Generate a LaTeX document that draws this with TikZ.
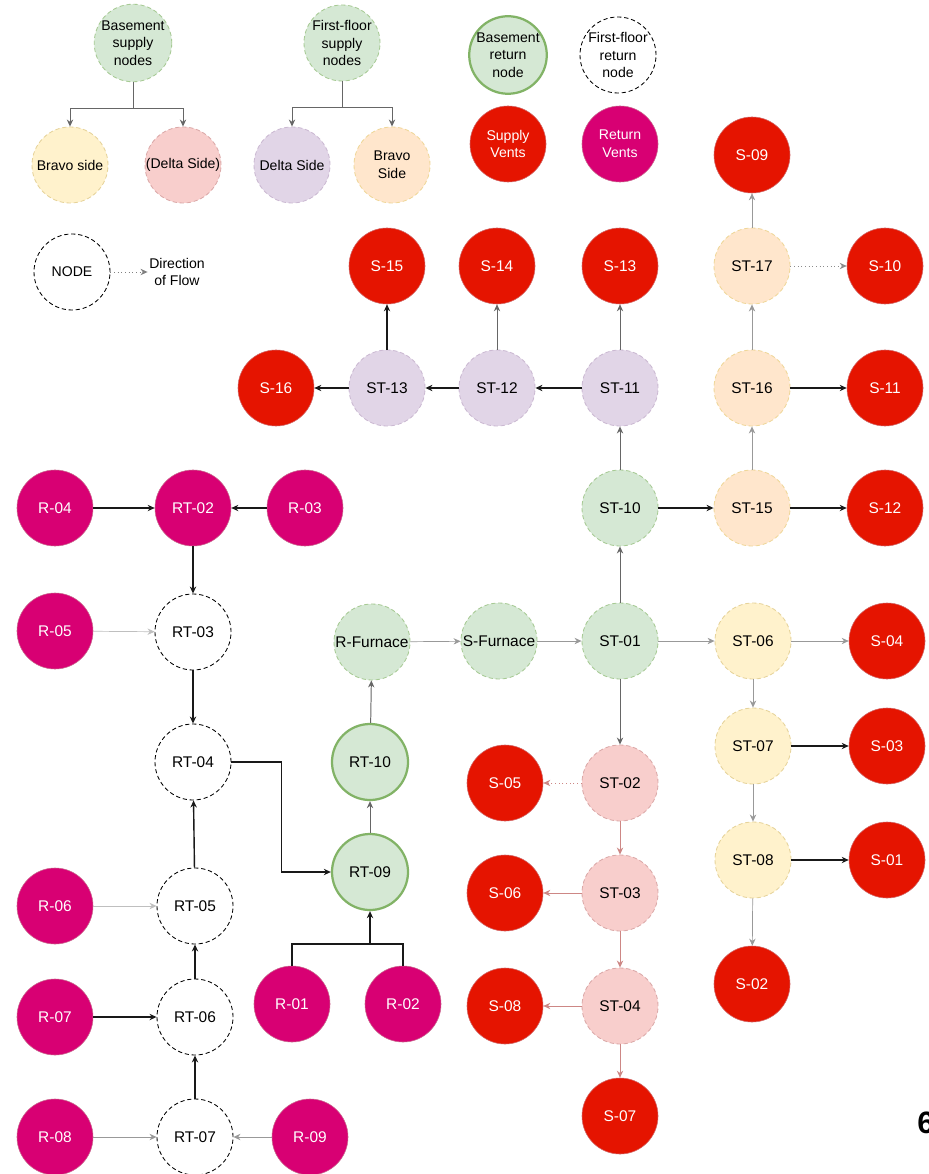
\documentclass[tikz,border=0pt]{standalone}
\usepackage{fontspec}
\setmainfont{Liberation Sans}
\usepackage{tikz}
\usetikzlibrary{arrows.meta, positioning}

\definecolor{greenfill}{HTML}{D5E8D4}
\definecolor{greendraw}{HTML}{82B366}
\definecolor{yellowfill}{HTML}{FFF2CC}
\definecolor{yellowdraw}{HTML}{D6B656}
\definecolor{pinkfill}{HTML}{F8CECC}
\definecolor{pinkdraw}{HTML}{B85450}
\definecolor{purplefill}{HTML}{E1D5E7}
\definecolor{purpledraw}{HTML}{9673A6}
\definecolor{orangefill}{HTML}{FFE6CC}
\definecolor{orangedraw}{HTML}{D79B00}
\definecolor{ventred}{HTML}{E51400}
\definecolor{ventreddraw}{HTML}{B20000}
\definecolor{ventmag}{HTML}{D80073}
\definecolor{ventmagdraw}{HTML}{A50040}

\tikzset{
  disc/.style={circle, minimum size=1.9cm, inner sep=0pt, align=center,
    font=\fontsize{11}{13}\selectfont},
  legtext/.style={font=\fontsize{10}{12.5}\selectfont},
  pastel/.style={disc, dash pattern=on 3pt off 2pt, line width=0.6pt},
  bsupply/.style={pastel, fill=greenfill, draw=greendraw!70},
  bravo/.style={pastel, fill=yellowfill, draw=yellowdraw!60},
  delta/.style={pastel, fill=pinkfill, draw=pinkdraw!50},
  fdelta/.style={pastel, fill=purplefill, draw=purpledraw!50},
  fbravo/.style={pastel, fill=orangefill, draw=orangedraw!40},
  bret/.style={disc, fill=greenfill, draw=greendraw, line width=1.6pt},
  fret/.style={disc, fill=white, draw=black, dash pattern=on 3pt off 2pt, line width=0.6pt},
  svent/.style={disc, fill=ventred, draw=ventreddraw!60, text=white},
  rvent/.style={disc, fill=ventmag, draw=ventmagdraw!60, text=white},
  tip/.style={-{Stealth[length=5pt,width=4.5pt]}},
  thickflow/.style={tip, line width=1pt, black!90},
  midflow/.style={tip, line width=0.7pt, black!60},
  thinflow/.style={tip, line width=0.5pt, black!40},
  pinkflow/.style={tip, line width=0.6pt, pinkdraw!70},
  dotflow/.style={tip, line width=0.6pt, dotted},
}

\begin{document}
\begin{tikzpicture}[x=0.025cm, y=-0.025cm]
  \useasboundingbox[fill=white] (0,0) rectangle (928,1174);

  % legend
  \node[bsupply, legtext] (bsup) at (133,43) {Basement\\supply\\nodes};
  \node[bravo, legtext] (bbravo) at (70,165) {Bravo side};
  \node[delta, legtext] (bdelta) at (183,165) {(Delta Side)};
  \node[bsupply, legtext] (fsup) at (342,43) {First-floor\\supply\\nodes};
  \node[fdelta, legtext] (fdel) at (292,165) {Delta Side};
  \node[fbravo, legtext] (fbrav) at (392,165) {Bravo\\Side};
  \node[bret, legtext] (bretleg) at (508,55) {Basement\\return\\node};
  \node[fret, legtext] (fretleg) at (618,55) {First-floor\\return\\node};
  \node[svent, legtext] (sventleg) at (508,144) {Supply\\Vents};
  \node[rvent, legtext] (rventleg) at (620,144) {Return\\Vents};
  \node[fret, legtext] (legnode) at (72,272) {NODE};
  \node[legtext, align=center, inner sep=1pt] (flowtxt) at (177,272) {Direction\\of Flow};

  \draw[midflow] (bsup.south) -- ++(0,26) -| (bbravo.north);
  \draw[midflow] (bsup.south) -- ++(0,26) -| (bdelta.north);
  \draw[midflow] (fsup.south) -- ++(0,26) -| (fdel.north);
  \draw[midflow] (fsup.south) -- ++(0,26) -| (fbrav.north);
  \draw[dotflow, black!50] (legnode) -- (flowtxt);

  % supply side
  \node[bsupply] (sfurn) at (499,641) {S-Furnace};
  \node[bsupply] (st01) at (620,641) {ST-01};
  \node[bsupply] (st10) at (620,508) {ST-10};
  \node[fdelta] (st11) at (620,388) {ST-11};
  \node[fdelta] (st12) at (497,388) {ST-12};
  \node[fdelta] (st13) at (387,388) {ST-13};
  \node[fbravo] (st15) at (752,508) {ST-15};
  \node[fbravo] (st16) at (752,388) {ST-16};
  \node[fbravo] (st17) at (752,266) {ST-17};
  \node[bravo] (st06) at (753,641) {ST-06};
  \node[bravo] (st07) at (753,746) {ST-07};
  \node[bravo] (st08) at (753,860) {ST-08};
  \node[delta] (st02) at (620,783) {ST-02};
  \node[delta] (st03) at (620,893) {ST-03};
  \node[delta] (st04) at (620,1006) {ST-04};

  \node[svent] (s01) at (887,860) {S-01};
  \node[svent] (s02) at (752,984) {S-02};
  \node[svent] (s03) at (887,746) {S-03};
  \node[svent] (s04) at (887,641) {S-04};
  \node[svent] (s05) at (505,783) {S-05};
  \node[svent] (s06) at (505,893) {S-06};
  \node[svent] (s07) at (620,1116) {S-07};
  \node[svent] (s08) at (505,1006) {S-08};
  \node[svent] (s09) at (752,155) {S-09};
  \node[svent] (s10) at (885,266) {S-10};
  \node[svent] (s11) at (885,388) {S-11};
  \node[svent] (s12) at (885,508) {S-12};
  \node[svent] (s13) at (620,266) {S-13};
  \node[svent] (s14) at (497,266) {S-14};
  \node[svent] (s15) at (387,266) {S-15};
  \node[svent] (s16) at (276,388) {S-16};

  \draw[thinflow] (sfurn) -- (st01);
  \draw[midflow] (st01) -- (st10);
  \draw[thinflow] (st01) -- (st06);
  \draw[midflow] (st01) -- (st02);
  \draw[midflow] (st10) -- (st11);
  \draw[thickflow] (st10) -- (st15);
  \draw[thickflow] (st11) -- (st12);
  \draw[midflow] (st11) -- (s13);
  \draw[thickflow] (st12) -- (st13);
  \draw[midflow] (st12) -- (s14);
  \draw[thickflow] (st13) -- (s16);
  \draw[thickflow] (st13) -- (s15);
  \draw[thinflow] (st15) -- (st16);
  \draw[thickflow] (st15) -- (s12);
  \draw[thinflow] (st16) -- (st17);
  \draw[thickflow] (st16) -- (s11);
  \draw[thinflow] (st17) -- (s09);
  \draw[dotflow, black!45] (st17) -- (s10);
  \draw[thinflow] (st06) -- (s04);
  \draw[thinflow] (st06) -- (st07);
  \draw[thickflow] (st07) -- (s03);
  \draw[thinflow] (st07) -- (st08);
  \draw[thickflow] (st08) -- (s01);
  \draw[thinflow] (st08) -- (s02);
  \draw[pinkflow, dotted] (st02) -- (s05);
  \draw[pinkflow] (st02) -- (st03);
  \draw[pinkflow] (st03) -- (s06);
  \draw[pinkflow] (st03) -- (st04);
  \draw[pinkflow] (st04) -- (s08);
  \draw[pinkflow] (st04) -- (s07);

  % return side
  \node[bsupply] (rfurn) at (372,642) {R-Furnace};
  \node[bret] (rt10) at (370,762) {RT-10};
  \node[bret] (rt09) at (370,872) {RT-09};
  \node[rvent] (rt02) at (193,508) {RT-02};
  \node[fret] (rt03) at (193,632) {RT-03};
  \node[fret] (rt04) at (193,762) {RT-04};
  \node[fret] (rt05) at (195,906) {RT-05};
  \node[fret] (rt06) at (195,1017) {RT-06};
  \node[fret] (rt07) at (195,1137) {RT-07};

  \node[rvent] (r01) at (292,1004) {R-01};
  \node[rvent] (r02) at (403,1004) {R-02};
  \node[rvent] (r03) at (305,508) {R-03};
  \node[rvent] (r04) at (55,508) {R-04};
  \node[rvent] (r05) at (55,631) {R-05};
  \node[rvent] (r06) at (55,906) {R-06};
  \node[rvent] (r07) at (55,1017) {R-07};
  \node[rvent] (r08) at (55,1137) {R-08};
  \node[rvent] (r09) at (310,1137) {R-09};
  \coordinate (rjoin) at (370,944);

  \draw[thinflow] (rfurn) -- (sfurn);
  \draw[midflow] (rt10) -- (rfurn);
  \draw[midflow] (rt09) -- (rt10);
  \draw[thickflow] (r01.north) |- (rjoin) -- (rt09.south);
  \draw[line width=1pt, black!90] (r02.north) |- (rjoin);
  \draw[thickflow] (r04) -- (rt02);
  \draw[thickflow] (r03) -- (rt02);
  \draw[thickflow] (rt02) -- (rt03);
  \draw[thinflow, black!25] (r05) -- (rt03);
  \draw[thickflow] (rt03) -- (rt04);
  \draw[thickflow] (rt04.east) -- ++(50,0) |- (rt09.west);
  \draw[thickflow] (rt05) -- (rt04);
  \draw[thinflow, black!25] (r06) -- (rt05);
  \draw[thickflow] (rt06) -- (rt05);
  \draw[thickflow] (r07) -- (rt06);
  \draw[thickflow] (rt07) -- (rt06);
  \draw[thinflow] (r08) -- (rt07);
  \draw[thinflow] (r09) -- (rt07);

  \node[anchor=west, inner sep=0pt, font=\bfseries\fontsize{22}{24}\selectfont] (pagenum) at (917,1123) {6};
\end{tikzpicture}
\end{document}
